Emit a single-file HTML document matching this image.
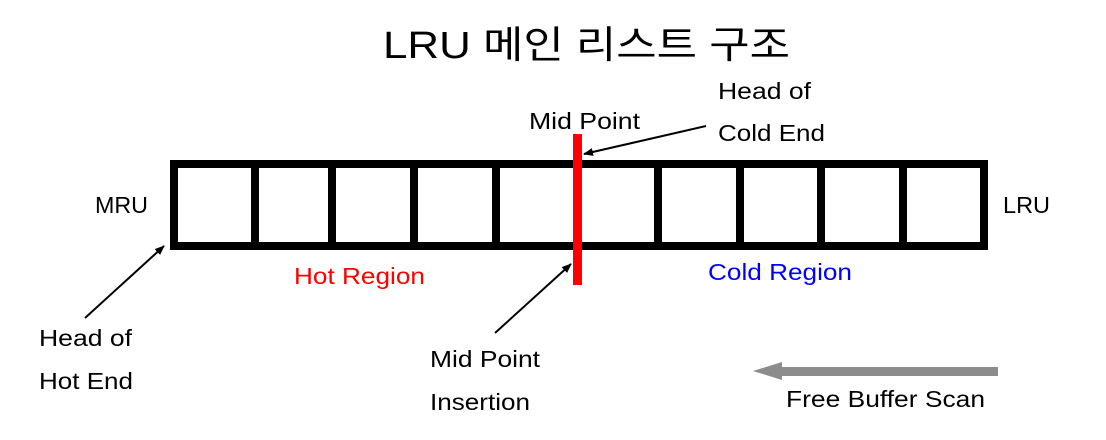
<!DOCTYPE html>
<html><head><meta charset="utf-8"><style>
body{margin:0;background:#fff;width:1106px;height:435px;overflow:hidden}
svg text{font-family:"Liberation Sans","Noto Sans CJK KR",sans-serif}
</style></head><body>
<svg width="1106" height="435" viewBox="0 0 1106 435" xmlns="http://www.w3.org/2000/svg">
<defs><marker id="ah" markerWidth="10" markerHeight="8" refX="9" refY="4" orient="auto" markerUnits="userSpaceOnUse"><path d="M0,0 L10,4 L0,8 Z" fill="#000"/></marker></defs>
<text x="383" y="58" font-size="38" fill="#000" textLength="407" lengthAdjust="spacingAndGlyphs">LRU 메인 리스트 구조</text>
<rect x="174" y="164" width="810" height="82" fill="none" stroke="#000" stroke-width="8"/>
<g fill="#000">
<rect x="251" y="164" width="8" height="82"/><rect x="328" y="164" width="8" height="82"/>
<rect x="410" y="164" width="8" height="82"/><rect x="492" y="164" width="8" height="82"/>
<rect x="654" y="164" width="8" height="82"/><rect x="736" y="164" width="8" height="82"/>
<rect x="817" y="164" width="8" height="82"/><rect x="899" y="164" width="8" height="82"/>
</g>
<rect x="573" y="134" width="9" height="151" fill="#f00"/>
<g stroke="#000" stroke-width="2" marker-end="url(#ah)">
<line x1="706" y1="126" x2="584" y2="154"/>
<line x1="495" y1="333" x2="571" y2="264"/>
<line x1="85" y1="318" x2="164" y2="246"/>
</g>
<rect x="775" y="367" width="223" height="9" fill="#8c8c8c"/>
<path d="M753,371 L782,362 L782,380 Z" fill="#8c8c8c"/>
<g font-size="23" fill="#000" lengthAdjust="spacingAndGlyphs">
<text x="529" y="129" textLength="111" lengthAdjust="spacingAndGlyphs">Mid Point</text>
<text x="718" y="99" textLength="93" lengthAdjust="spacingAndGlyphs">Head of</text>
<text x="718" y="141" textLength="107" lengthAdjust="spacingAndGlyphs">Cold End</text>
<text x="95" y="213" textLength="53" lengthAdjust="spacingAndGlyphs">MRU</text>
<text x="1003" y="213" textLength="47" lengthAdjust="spacingAndGlyphs">LRU</text>
<text x="39" y="346" textLength="93" lengthAdjust="spacingAndGlyphs">Head of</text>
<text x="39" y="389" textLength="94" lengthAdjust="spacingAndGlyphs">Hot End</text>
<text x="430" y="367" textLength="110" lengthAdjust="spacingAndGlyphs">Mid Point</text>
<text x="430" y="410" textLength="100" lengthAdjust="spacingAndGlyphs">Insertion</text>
<text x="786" y="407" textLength="199" lengthAdjust="spacingAndGlyphs">Free Buffer Scan</text>
<text x="294" y="284" fill="#f00" textLength="131" lengthAdjust="spacingAndGlyphs">Hot Region</text>
<text x="708" y="280" fill="#00f" textLength="144" lengthAdjust="spacingAndGlyphs">Cold Region</text>
</g>
</svg>
</body></html>
